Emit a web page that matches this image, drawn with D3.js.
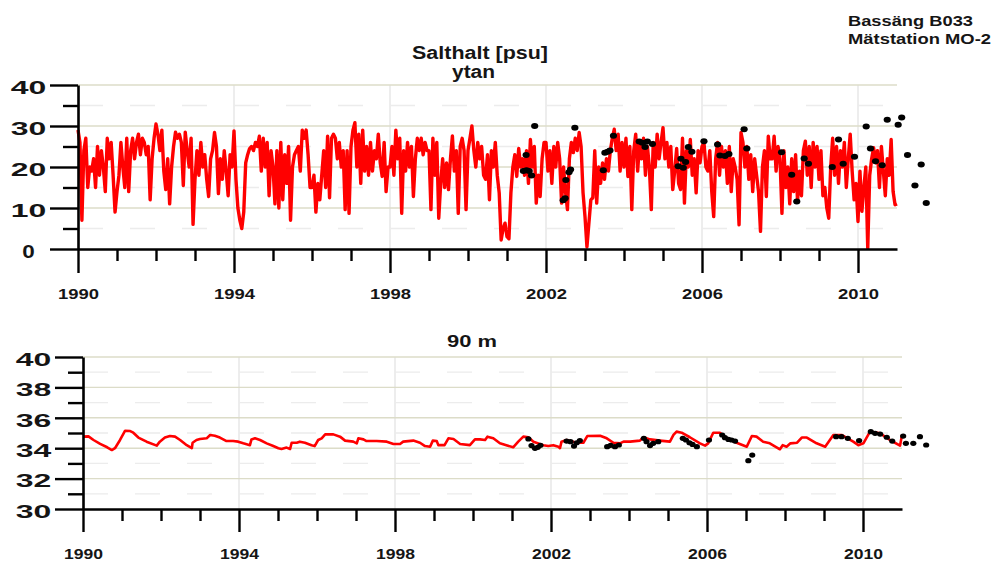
<!DOCTYPE html>
<html><head><meta charset="utf-8">
<script src="https://cdn.jsdelivr.net/npm/d3@7"></script>
<style>
body{margin:0;background:#fff}
svg{display:block}
text{font-family:"Liberation Sans",Arial,sans-serif;font-weight:bold;fill:#151515}
</style>
</head><body>
<svg id="c" width="995" height="563"></svg>
<script>
// ---------- data ----------
const yearTicks = [1990, 1994, 1998, 2002, 2006, 2010];
const yearMinorTicks = [1991,1992,1993,1995,1996,1997,1999,2000,2001,2003,2004,2005,2007,2008,2009,2011];
const ytanTicks = [0, 10, 20, 30, 40];
const ytanMinorTicks = [5, 15, 25, 35];
const djupTicks = [30, 32, 34, 36, 38, 40];
const djupMinorTicks = [31, 33, 35, 37, 39];

// surface salinity (model), sampled every 1/20 year from 1990.0
const ytanStart = 1990, ytanStep = 0.05;
const ytanValues = [
 29,26,7,24,27,15,20,19,22,15,25,18,24,20,14,27,22,26,18,9,
 14,18,26,20,15,27,14,24,27,22,26,28,23,27,26,23,25,12,22,27,
 30.5,28,24,29,19,14.5,22,11,20,25,28.5,27,28,26,15.5,28.5,24,20,27,6,
 17,24,18,26,20,23,17,12.8,22,24,28.4,25,13.5,22,17,24,19,13,23,20,
 28.8,17,10,7,5,9,21,23,24.5,25,24,26,25,27.5,19,27,20,26,13,24,
 20,11,24,10,26,12,23,16,25,7,20,23,24,25,19,29,27,29,23,15,
 15,18,9,16,12,18,24,15,27.5,12.5,27,28,27,22,26,20,24,9.6,24,8.7,
 25,29,30.8,20,28,16,29,19,25,18,26,19,24,22,28,21,17.7,26,14,20,
 20,25,18,29,22,27,8.7,24,19,26,20,25,12.8,22,27,24,27,23,26,24,
 24,9.6,27,18,26,7.5,16,22,15,21,14.5,22,27.6,19,24,8.7,25,27,24,9.6,
 24,27,30,24,20,26,22,25,18,17,23,12,24,20,26,18,13.7,2.2,5,6.3,
 3,2.5,13.7,20,23,17.7,24.5,20,22,18,24,16,26.7,20,25,11.2,18,12.8,22,26,
 26,19,24,16,25,20,26,22,11.2,20,14,9.6,22,26,23.5,27,24,28.4,25,13.7,
 7.9,0.5,6.3,12,12.5,24,11.2,20,16,21,17,22,19,24,27,29.2,24,28,19,26,
 20,27,17.7,25,9.6,24,28,19,26,22,27,18,25,20,9.6,26,20,28,22,26,
 29.6,22,26,20,25,14.5,19,24.5,16,14.5,27,11.2,24,20,26.7,18,22,13.7,24,21,
 25,26,20,19,24,14,7.9,22,26,18,25,20,24,16,25,14,22,20,17,5.9,
 28.4,26,20,25,17,23,14,22,18,14,4.3,20,24,12.8,27.5,22,22,27.5,19,25,
 22,8.7,24,15,20,11,22,14,23,11.6,19,13,24,26.3,18,25,15,26,20,25,
 17,24,13,15,10,7.5,20,27,18,25,16,24,20,26,15,22,28,19,12,16,
 6.7,19,9.2,15,20,0.2,18,22,24.7,21,24,15,25,19,13,22,18,26.7,14,10.8,
 11
];

// surface observations
const ytanObsYears = [2001.42,2001.49,2001.50,2001.57,2001.63,2001.71,
 2002.44,2002.49,2002.51,2002.59,2002.63,2002.74,
 2003.47,2003.51,2003.58,2003.64,2003.73,
 2004.39,2004.47,2004.54,2004.60,2004.73,
 2005.39,2005.46,2005.52,2005.58,2005.65,2005.74,
 2006.05,2006.40,2006.46,2006.59,2006.69,
 2007.08,2007.15,
 2008.04,2008.30,2008.43,2008.62,2008.73,
 2009.34,2009.50,2009.62,2009.91,
 2010.21,2010.32,2010.45,2010.62,2010.75,
 2011.03,2011.12,2011.27,2011.46,2011.62,2011.75];
const ytanObsValues = [19.0,22.9,19.2,19.0,17.9,30.0,
 11.9,12.4,16.8,18.7,19.4,29.6,
 19.2,23.5,23.7,24.0,27.6,
 26.2,25.9,24.9,26.2,25.6,
 20.2,22.0,19.8,21.2,24.9,23.7,
 26.3,25.5,22.8,22.7,23.2,
 29.2,24.5,
 23.6,18.1,11.6,22.1,20.8,
 20.0,26.7,20.8,22.5,
 29.9,24.5,21.4,20.4,31.5,
 30.3,32.1,22.9,15.5,20.6,11.2];

// 90 m salinity (model)
const djupYears = [1990.00,1990.14,1990.27,1990.44,1990.62,1990.74,1990.82,1990.95,1991.08,1991.21,1991.29,1991.42,1991.63,1991.89,1991.97,
 1992.10,1992.23,1992.36,1992.49,1992.66,1992.79,1992.81,1992.91,1993.00,1993.17,1993.26,1993.38,1993.51,1993.68,1993.85,1993.98,
 1994.11,1994.28,1994.32,1994.41,1994.54,1994.71,1994.88,1995.01,1995.09,1995.22,1995.31,1995.35,1995.48,1995.56,1995.69,1995.86,1995.94,
 1996.03,1996.12,1996.21,1996.42,1996.59,1996.72,1996.93,1997.02,1997.06,1997.19,1997.27,1997.53,1997.79,1997.96,
 1998.13,1998.21,1998.47,1998.64,1998.77,1998.90,1998.97,1999.07,1999.11,1999.27,1999.37,1999.50,1999.67,1999.92,
 2000.05,2000.18,2000.31,2000.37,2000.52,2000.69,2001.03,2001.16,2001.29,2001.42,2001.55,2001.80,2001.93,
 2002.06,2002.19,2002.23,2002.27,2002.40,2002.66,2002.83,2002.93,2003.26,2003.43,2003.60,2003.77,2003.86,
 2004.03,2004.28,2004.37,2004.54,2004.79,2005.05,2005.14,2005.22,2005.35,2005.56,2005.82,2005.95,
 2006.03,2006.16,2006.33,2006.50,2006.76,2007.02,2007.15,2007.27,2007.44,2007.61,2007.87,2007.94,
 2008.04,2008.14,2008.31,2008.43,2008.56,2008.81,2009.03,2009.24,2009.45,2009.75,2009.88,
 2010.01,2010.18,2010.44,2010.69,2010.95,2011.00];
const djupValues = [34.76,34.78,34.54,34.28,34.06,33.88,34.0,34.54,35.15,35.13,35.02,34.7,34.43,34.17,34.43,
 34.7,34.8,34.76,34.54,34.2,34.0,34.36,34.54,34.6,34.65,34.87,34.82,34.7,34.47,34.47,34.43,
 34.32,34.2,34.58,34.65,34.54,34.32,34.14,34.0,33.95,34.04,33.95,34.36,34.36,34.43,34.36,34.2,34.14,
 34.54,34.65,34.91,34.91,34.76,34.5,34.43,34.32,34.65,34.58,34.47,34.47,34.43,34.28,
 34.28,34.43,34.5,34.36,34.14,34.1,34.5,34.47,34.2,34.2,34.65,34.61,34.28,34.2,
 34.58,34.58,34.54,34.76,34.65,34.32,34.06,34.43,34.76,34.72,34.43,34.2,34.14,
 34.2,34.1,34.0,34.43,34.54,34.36,34.36,34.8,34.82,34.65,34.36,34.32,34.43,
 34.43,34.5,34.72,34.58,34.5,34.43,34.87,35.09,35.02,34.72,34.32,34.17,
 34.32,35.02,35.02,34.65,34.36,34.1,34.8,34.76,34.43,34.32,33.93,34.2,
 34.1,34.32,34.36,34.7,34.7,34.32,34.1,34.87,34.87,34.43,34.2,
 34.32,35.09,34.98,34.54,34.17,34.87];

// 90 m observations
const djupObsYears = [2001.42,2001.50,2001.59,2001.66,2001.73,
 2002.40,2002.50,2002.59,2002.66,2002.74,
 2003.44,2003.53,2003.64,2003.74,
 2004.38,2004.45,2004.54,2004.62,2004.75,
 2005.38,2005.46,2005.55,2005.63,2005.74,
 2006.05,2006.39,2006.46,2006.55,2006.63,2006.72,
 2007.06,2007.16,
 2009.31,2009.45,2009.61,2009.90,
 2010.20,2010.31,2010.44,2010.61,2010.75,
 2011.03,2011.10,2011.29,2011.46,2011.62];
const djupObsValues = [34.61,34.17,33.99,34.06,34.19,
 34.47,34.43,34.14,34.36,34.5,
 34.1,34.19,34.1,34.21,
 34.65,34.43,34.17,34.32,34.43,
 34.65,34.54,34.36,34.25,34.1,
 34.54,34.87,34.69,34.58,34.54,34.47,
 33.18,33.55,
 34.76,34.76,34.65,34.5,
 35.09,34.98,34.93,34.72,34.47,
 34.8,34.32,34.32,34.76,34.21];

// ---------- drawing ----------
const svg = d3.select("#c");
const ytanSeries = ytanValues.map((v, i) => [ytanStart + i * ytanStep, v]);
const djupSeries = djupYears.map((t, i) => [t, djupValues[i]]);

function panel(o) {
  const g = svg.append("g");
  const x = d3.scaleLinear().domain([1990, 2011]).range([o.left, o.right]);
  const y = d3.scaleLinear().domain(o.yDomain).range([o.bottom, o.top]);

  // grid
  const grid = g.append("g");
  grid.selectAll("line.vg").data(yearTicks.slice(1)).join("line")
    .attr("x1", d => x(d)).attr("x2", d => x(d))
    .attr("y1", y(o.yDomain[1])).attr("y2", y(o.yDomain[0]))
    .attr("stroke", "#e4e4e4").attr("stroke-width", 1.3);
  grid.selectAll("line.dg").data(o.minor).join("line")
    .attr("x1", x(1990)).attr("x2", x(2011))
    .attr("y1", d => y(d)).attr("y2", d => y(d))
    .attr("stroke", "#ececec").attr("stroke-width", 1.3)
    .attr("stroke-dasharray", "25 27");
  grid.selectAll("line.hg").data(o.major.slice(1)).join("line")
    .attr("x1", x(1990)).attr("x2", x(2011))
    .attr("y1", d => y(d)).attr("y2", d => y(d))
    .attr("stroke", "#dcdcc8").attr("stroke-width", 1.4);

  // series
  g.append("path").datum(o.series)
    .attr("fill", "none").attr("stroke", "#ff0000")
    .attr("stroke-width", o.lineW).attr("stroke-linejoin", "round")
    .attr("d", d3.line().x(d => x(d[0])).y(d => y(d[1])));

  g.append("g").selectAll("ellipse").data(o.obsYears).join("ellipse")
    .attr("cx", d => x(d)).attr("cy", (d, i) => y(o.obsValues[i]))
    .attr("rx", o.rx).attr("ry", o.ry).attr("fill", "#000");

  // axes
  const styleAxis = sel => {
    sel.selectAll("path.domain").attr("stroke", "#000").attr("stroke-width", 2.6);
    sel.selectAll(".tick line").attr("stroke", "#000").attr("stroke-width", 2.4);
  };
  const yMinorAx = g.append("g").attr("transform", `translate(${o.left},0)`)
    .call(d3.axisLeft(y).tickValues(o.minor).tickSize(15).tickFormat(""));
  yMinorAx.select("path.domain").remove();
  styleAxis(yMinorAx);
  const yAx = g.append("g").attr("transform", `translate(${o.left},0)`)
    .call(d3.axisLeft(y).tickValues(o.major).tickSize(28).tickSizeOuter(0).tickFormat(d3.format("d")));
  styleAxis(yAx);
  yAx.selectAll("text")
    .attr("x", -49.5).attr("dy", null).attr("y", 8.3)
    .attr("text-anchor", "middle")
    .attr("font-size", 19)
    .attr("textLength", d => String(d).length > 1 ? 35.5 : 12.5)
    .attr("lengthAdjust", "spacingAndGlyphs");

  const xMinorAx = g.append("g").attr("transform", `translate(0,${o.bottom})`)
    .call(d3.axisBottom(x).tickValues(yearMinorTicks.filter(d => d < 2011)).tickSize(12).tickFormat(""));
  xMinorAx.select("path.domain").remove();
  styleAxis(xMinorAx);
  const xAx = g.append("g").attr("transform", `translate(0,${o.bottom})`)
    .call(d3.axisBottom(x).tickValues(yearTicks).tickSize(o.xTick).tickSizeOuter(0).tickFormat(d3.format("d")));
  styleAxis(xAx);
  xAx.selectAll("text")
    .attr("dy", null).attr("y", o.xLabelY)
    .attr("font-size", 14.5)
    .attr("textLength", o.xLabelW).attr("lengthAdjust", "spacingAndGlyphs");
  svg.selectAll(".tick text").attr("fill", "#151515").attr("font-family", null);
  return g;
}

panel({left: 78, right: 897, top: 85, bottom: 249, yDomain: [0, 40],
  major: ytanTicks, minor: ytanMinorTicks, series: ytanSeries,
  obsYears: ytanObsYears, obsValues: ytanObsValues, rx: 3.6, ry: 3.0,
  lineW: 3.4, xTick: 24, xLabelY: 49.5, xLabelW: 41});

panel({left: 83, right: 902, top: 357, bottom: 509, yDomain: [30, 40],
  major: djupTicks, minor: djupMinorTicks, series: djupSeries,
  obsYears: djupObsYears, obsValues: djupObsValues, rx: 3.1, ry: 2.6,
  lineW: 2.6, xTick: 23, xLabelY: 50.3, xLabelW: 39});

// titles
const txt = (s, x, yb, size, w) => svg.append("text").attr("x", x).attr("y", yb)
  .attr("font-size", size).attr("textLength", w).attr("lengthAdjust", "spacingAndGlyphs").text(s);
txt("Salthalt [psu]", 412, 58.5, 18, 136);
txt("ytan", 452, 77.5, 18, 43);
txt("Bassäng B033", 848, 26, 15, 125);
txt("Mätstation MO-2", 848, 43.5, 15, 143);
txt("90 m", 447, 346.5, 16, 50);
</script>
</body></html>
